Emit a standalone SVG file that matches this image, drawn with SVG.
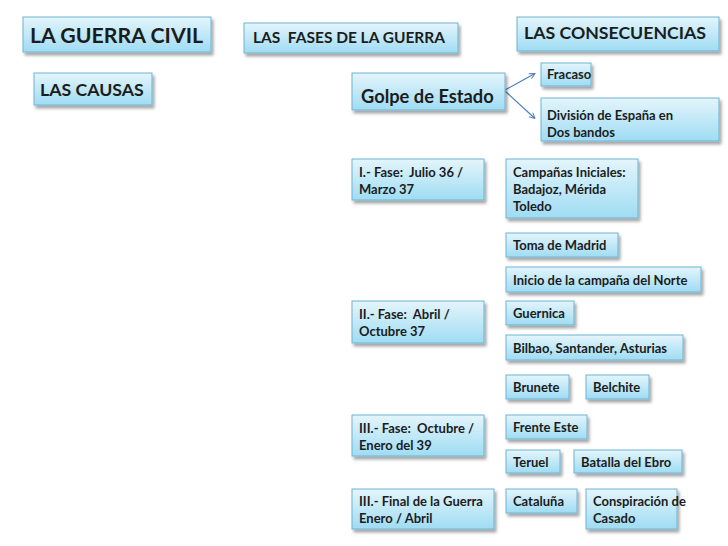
<svg xmlns="http://www.w3.org/2000/svg" width="728" height="546" viewBox="0 0 728 546">
<defs>
<linearGradient id="g" x1="0" y1="0" x2="0" y2="1">
<stop offset="0" stop-color="#e4f5fc"/>
<stop offset="1" stop-color="#9fdcf3"/>
</linearGradient>
<filter id="sh" x="-10%" y="-20%" width="130%" height="160%">
<feDropShadow dx="2" dy="3" stdDeviation="1.5" flood-color="#000" flood-opacity="0.35"/>
</filter>
<marker id="ah" viewBox="0 0 10 10" refX="9" refY="5" markerWidth="7" markerHeight="7" orient="auto" markerUnits="userSpaceOnUse">
<path d="M1,1 L9,5 L1,9" fill="none" stroke="#4a7ebb" stroke-width="1.3"/>
</marker>
<style>
rect.b{fill:url(#g);stroke:#6fb3d2;stroke-width:1;filter:url(#sh)}
text{font-family:Lato,"Open Sans","Liberation Sans",sans-serif;font-weight:bold;fill:#1c1c1c}
.s{font-size:13px}
.c{stroke:#4a7ebb;stroke-width:1.2;fill:none;marker-end:url(#ah)}
</style>
</defs>
<rect width="728" height="546" fill="#fff"/>
<g id="connectors">
<line class="c" x1="505" y1="90" x2="535" y2="73.5"/>
<line class="c" x1="505" y1="91" x2="535" y2="118.5"/>
</g>
<g id="n-guerra"><rect class="b" x="23" y="17" width="188" height="35"/><text x="30" y="42.5" font-size="21.3">LA GUERRA CIVIL</text></g>
<g id="n-causas"><rect class="b" x="34" y="73" width="118" height="32"/><text x="40" y="96" font-size="17.7">LAS CAUSAS</text></g>
<g id="n-fases"><rect class="b" x="244" y="23" width="214" height="30"/><text x="253" y="42.5" font-size="15.5" xml:space="preserve">LAS  FASES DE LA GUERRA</text></g>
<g id="n-golpe"><rect class="b" x="352" y="73" width="153" height="37"/><text x="361" y="102.5" font-size="18.3">Golpe de Estado</text></g>
<g id="n-consec"><rect class="b" x="517" y="17" width="202" height="34"/><text x="524" y="38.5" font-size="17.7">LAS CONSECUENCIAS</text></g>
<g id="n-fracaso"><rect class="b" x="541" y="63" width="50" height="23"/><text class="s" x="547" y="79">Fracaso</text></g>
<g id="n-division"><rect class="b" x="541" y="98" width="178" height="43"/><text class="s" x="547" y="120">División de España en</text><text class="s" x="547" y="137">Dos bandos</text></g>
<g id="n-fase1"><rect class="b" x="352" y="159" width="132" height="41"/><text class="s" x="359" y="176.5" xml:space="preserve">I.- Fase:  Julio 36 /</text><text class="s" x="359" y="193.5">Marzo 37</text></g>
<g id="n-campanas"><rect class="b" x="506" y="159" width="132" height="59"/><text class="s" x="513" y="176.5">Campañas Iniciales:</text><text class="s" x="513" y="193.5">Badajoz, Mérida</text><text class="s" x="513" y="210.5">Toledo</text></g>
<g id="n-madrid"><rect class="b" x="506" y="233" width="112" height="24"/><text class="s" x="513" y="250">Toma de Madrid</text></g>
<g id="n-norte"><rect class="b" x="506" y="267" width="195" height="25"/><text class="s" x="513" y="284.5">Inicio de la campaña del Norte</text></g>
<g id="n-fase2"><rect class="b" x="352" y="301" width="132" height="42"/><text class="s" x="359" y="318.5" xml:space="preserve">II.- Fase:  Abril /</text><text class="s" x="359" y="335.5">Octubre 37</text></g>
<g id="n-guernica"><rect class="b" x="506" y="301" width="68" height="24"/><text class="s" x="513" y="318">Guernica</text></g>
<g id="n-bilbao"><rect class="b" x="506" y="335" width="177" height="25"/><text class="s" x="513" y="352.5">Bilbao, Santander, Asturias</text></g>
<g id="n-brunete"><rect class="b" x="506" y="375" width="63" height="24"/><text class="s" x="513" y="392">Brunete</text></g>
<g id="n-belchite"><rect class="b" x="586" y="375" width="63" height="24"/><text class="s" x="593" y="392">Belchite</text></g>
<g id="n-fase3"><rect class="b" x="352" y="415" width="132" height="41"/><text class="s" x="359" y="432.5" xml:space="preserve">III.- Fase:  Octubre /</text><text class="s" x="359" y="449.5">Enero del 39</text></g>
<g id="n-frente"><rect class="b" x="506" y="415" width="81" height="24"/><text class="s" x="513" y="432">Frente Este</text></g>
<g id="n-teruel"><rect class="b" x="506" y="450" width="54" height="23"/><text class="s" x="513" y="466.5">Teruel</text></g>
<g id="n-ebro"><rect class="b" x="574" y="450" width="108" height="23"/><text class="s" x="581" y="466.5">Batalla del Ebro</text></g>
<g id="n-final"><rect class="b" x="352" y="489" width="142" height="40"/><text class="s" x="359" y="506">III.- Final de la Guerra</text><text class="s" x="359" y="523">Enero / Abril</text></g>
<g id="n-cataluna"><rect class="b" x="506" y="489" width="71" height="24"/><text class="s" x="513" y="506">Cataluña</text></g>
<g id="n-casado"><rect class="b" x="586" y="489" width="91" height="40"/><text class="s" x="593" y="506">Conspiración de</text><text class="s" x="593" y="523">Casado</text></g>
</svg>
